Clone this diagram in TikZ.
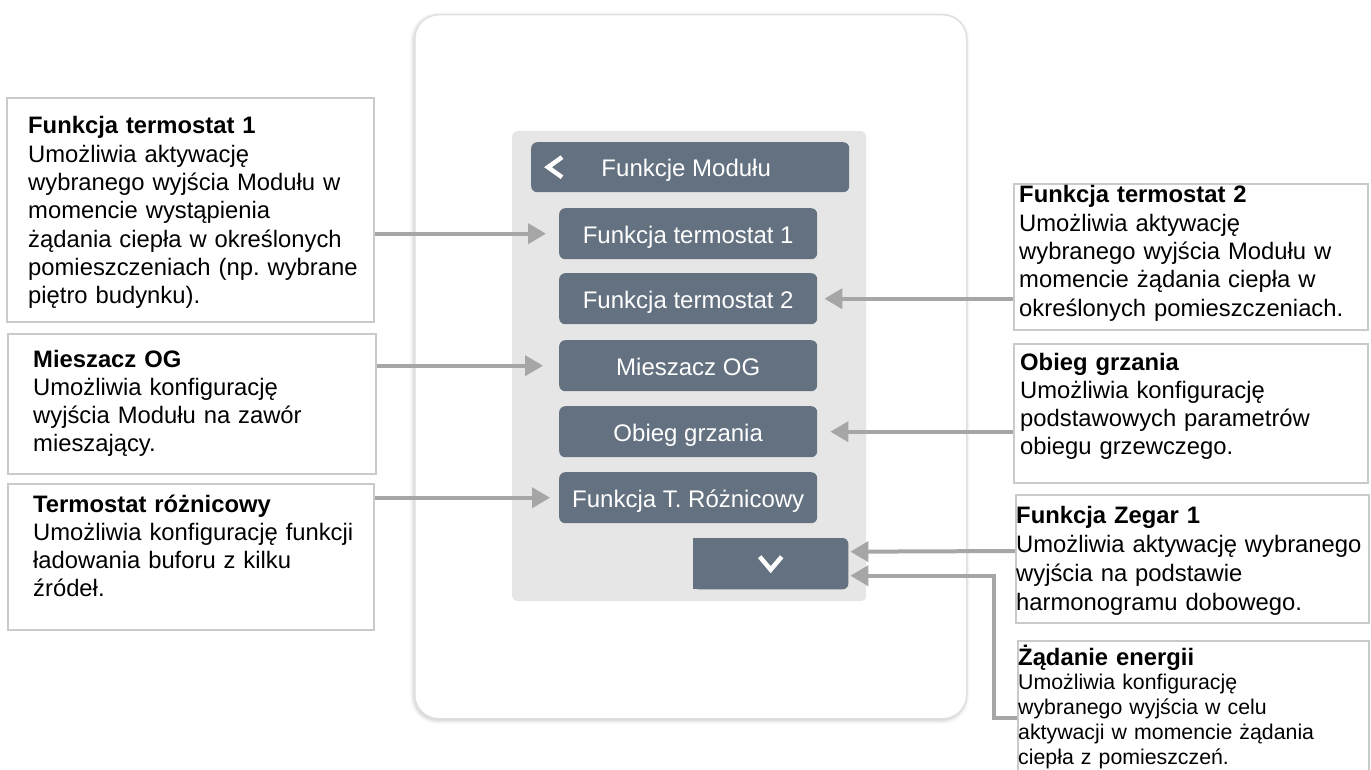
\documentclass[tikz,border=0pt]{standalone}
\usepackage{fontspec}
\setmainfont{Liberation Sans}
\usetikzlibrary{arrows.meta,shadows.blur}

\definecolor{btnfill}{HTML}{637180}
\definecolor{panelgray}{HTML}{E6E6E6}
\definecolor{boxline}{HTML}{CACACA}
\definecolor{arrowgray}{HTML}{A6A6A6}
\definecolor{framegray}{HTML}{E0E0E0}

\begin{document}
\begin{tikzpicture}[x=1pt,y=-1pt,
  devframe/.style={draw=framegray, line width=1.5pt, fill=white, rounded corners=24pt,
    anchor=north west, inner sep=0pt,
    blur shadow={shadow xshift=-1pt, shadow yshift=-1.5pt, shadow opacity=25, shadow blur radius=4pt}},
  panel/.style={fill=panelgray, rounded corners=5pt, anchor=north west, inner sep=0pt},
  btn/.style={fill=btnfill, rounded corners=6pt, anchor=north west, inner sep=0pt,
    minimum width=258pt, minimum height=51pt, text=white,
    font=\fontsize{24}{28}\selectfont, text height=20pt, text depth=1pt},
  annbox/.style={draw=boxline, line width=1.8pt, fill=white, anchor=north west, inner sep=0pt},
  anntext/.style={anchor=base west, inner sep=0pt, align=left, text width=420pt,
    font=\fontsize{23.8}{28.3}\selectfont\frenchspacing},
  chev/.style={draw=white, line width=4.5pt},
  conn/.style={draw=arrowgray, line width=4pt, -{Triangle[length=18pt,width=20pt]}}
]
\useasboundingbox (0,0) rectangle (1371,770);
\clip (0,0) rectangle (1371,770);

% device outline and menu panel
\node[devframe, minimum width=552pt, minimum height=704pt] (dev) at (414,14) {};
\node[panel, minimum width=354pt, minimum height=470pt] (pan) at (512,131) {};

% header with back chevron
\node[btn, minimum width=318pt, minimum height=50pt] (hdr) at (531,142) {\hspace*{-8pt}Funkcje Modułu};
\draw[chev] ([shift={(31,-10)}]hdr.west) -- ([shift={(17,0)}]hdr.west) -- ([shift={(31,10)}]hdr.west);

% menu entries
\node[btn] (b1) at (559,208) {Funkcja termostat 1};
\node[btn] (b2) at (559,273) {Funkcja termostat 2};
\node[btn] (b3) at (559,340) {Mieszacz OG};
\node[btn] (b4) at (559,406) {Obieg grzania};
\node[btn] (b5) at (559,472) {Funkcja T. Różnicowy};

% scroll-down button: right corners rounded, left corners square
\node[anchor=north west, inner sep=0pt, minimum width=155pt, minimum height=51pt] (down) at (693,538) {};
\fill[btnfill, rounded corners=6pt] (down.south west) rectangle (down.north east);
\fill[btnfill] (down.south west) rectangle ([xshift=12pt]down.north west);
\draw[chev] ([shift={(-11,-7)}]down.center) -- ([shift={(0,6)}]down.center) -- ([shift={(11,-7)}]down.center);

% description boxes, left column
\node[annbox, minimum width=367pt, minimum height=224pt] (lb1) at (6,97) {};
\node[annbox, minimum width=368pt, minimum height=140pt] (lb2) at (7,333) {};
\node[annbox, minimum width=366pt, minimum height=146pt] (lb3) at (7,483) {};

% description boxes, right column
\node[annbox, minimum width=354pt, minimum height=146pt] (rb1) at (1013,183) {};
\node[annbox, minimum width=354pt, minimum height=139pt] (rb2) at (1013,343) {};
\node[annbox, minimum width=353pt, minimum height=128pt] (rb3) at (1015,494) {};
\node[annbox, minimum width=351pt, minimum height=150pt] (rb4) at (1017,640) {};

% connectors
\draw[conn] (lb1.east |- b1.west) -- ([xshift=-13pt]b1.west);
\draw[conn] (lb2.east |- b3.west) -- ([xshift=-16pt]b3.west);
\draw[conn] (lb3.east |- b5.west) -- ([xshift=-9pt]b5.west);
\draw[conn] (rb1.west |- b2.east) -- ([xshift=7pt]b2.east);
\draw[conn] (rb2.west |- b4.east) -- ([xshift=13pt]b4.east);
\draw[conn] (rb3.west |- 0,551) -- ([shift={(2pt,12pt)}]down.east);
\coordinate (zbend) at (994,718);
\draw[conn] (rb4.west |- zbend) -- (zbend) |- ([shift={(2pt,-12pt)}]down.east);

% description texts
\node[anntext] (lt1) at (28,134) {\textbf{Funkcja termostat 1}\\Umożliwia aktywację\\wybranego wyjścia Modułu w\\momencie wystąpienia\\żądania ciepła w określonych\\pomieszczeniach (np. wybrane\\piętro budynku).};
\node[anntext] (lt2) at (33,367) {\textbf{Mieszacz OG}\\Umożliwia konfigurację\\wyjścia Modułu na zawór\\mieszający.};
\node[anntext] (lt3) at (33,512) {\textbf{Termostat różnicowy}\\Umożliwia konfigurację funkcji\\ładowania buforu z kilku\\źródeł.};

\node[anntext] (rt1) at (1019,203) {\textbf{Funkcja termostat 2}\\Umożliwia aktywację\\wybranego wyjścia Modułu w\\momencie żądania ciepła w\\określonych pomieszczeniach.};
\node[anntext] (rt2) at (1020,370) {\textbf{Obieg grzania}\\Umożliwia konfigurację\\podstawowych parametrów\\obiegu grzewczego.};
\node[anntext, font=\fontsize{23.8}{29.3}\selectfont] (rt3) at (1016,523) {\textbf{Funkcja Zegar 1}\\Umożliwia aktywację wybranego\\wyjścia na podstawie\\harmonogramu dobowego.};
\node[anntext] (rt4t) at (1018,665) {\textbf{Żądanie energii}};
\node[anntext, font=\fontsize{21.3}{25.2}\selectfont] (rt4) at (1018,689) {Umożliwia konfigurację\\wybranego wyjścia w celu\\aktywacji w momencie żądania\\ciepła z pomieszczeń.};
\end{tikzpicture}
\end{document}
